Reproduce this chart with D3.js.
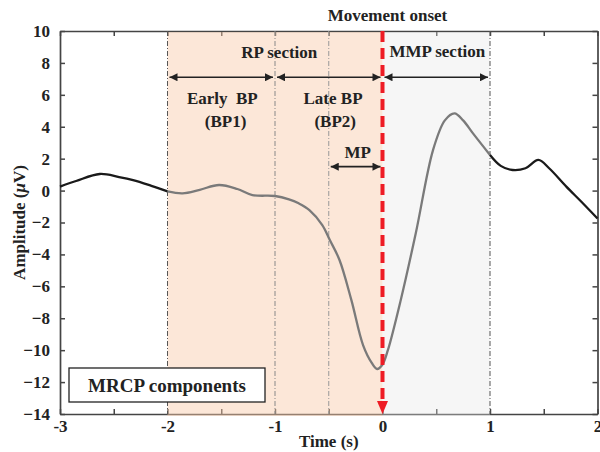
<!DOCTYPE html>
<html lang="en">
<head>
    <meta charset="UTF-8">
    <title>MRCP components</title>
    <script src="https://d3js.org/d3.v7.min.js"></script>
    <style>
        body { margin: 0; background: #fff; }
        text { font-family: "Liberation Serif", "Times New Roman", serif; font-weight: bold; fill: #222; white-space: pre; }
    </style>
</head>
<body>
    <div id="chart"></div>
    <script>
        // averaged MRCP trace (time in s, amplitude in uV)
        const timeVals = [-3, -2.85, -2.63, -2.45, -2.32, -2.15, -2.0, -1.86, -1.7, -1.52, -1.35, -1.21, -1.0,
            -0.87, -0.78, -0.68, -0.56, -0.49, -0.4, -0.29, -0.18, -0.1, -0.05, 0, 0.05, 0.17, 0.31, 0.47,
            0.58, 0.67, 0.75, 0.84, 1.0, 1.1, 1.21, 1.33, 1.45, 1.55, 1.71, 1.85, 2.0];
        const ampVals = [0.25, 0.6, 1.04, 0.85, 0.66, 0.3, -0.05, -0.17, 0.05, 0.35, 0.1, -0.28, -0.34,
            -0.55, -0.8, -1.22, -2.16, -3.1, -4.35, -6.85, -9.7, -10.8, -11.18, -10.9, -10.0, -6.85, -2.66, 2.54,
            4.4, 4.84, 4.4, 3.6, 2.23, 1.55, 1.29, 1.4, 1.92, 1.4, 0.25, -0.7, -1.75];

        const xTicks = d3.range(-3, 2.01, 0.5);
        const yTicks = d3.range(-14, 10.01, 2);

        const rpSpan = [-2, 0];
        const mmpSpan = [0, 1];
        const guideLines = [-2, -1, -0.5, 1];
        const guideColors = ["#555", "#888", "#999", "#555"];

        // double arrows: [start, end, amplitude level]
        const arrows = [[-2, -1, 7.1], [-1, 0, 7.1], [0, 1, 7.1], [-0.5, 0, 1.5]];
        const labels = [
            { t: -0.96, a: 8.3, text: "RP section" },
            { t: 0.51, a: 8.4, text: "MMP section" },
            { t: -1.49, a: 5.4, text: "Early  BP" },
            { t: -1.46, a: 4.0, text: "(BP1)" },
            { t: -0.46, a: 5.4, text: "Late BP" },
            { t: -0.44, a: 4.0, text: "(BP2)" },
            { t: -0.23, a: 2.05, text: "MP" }
        ];

        const W = 600, H = 452;
        const pL = 60, pR = 597.5, pT = 31, pB = 414;

        const svg = d3.select("#chart").append("svg")
            .attr("width", W)
            .attr("height", H);

        const x = d3.scaleLinear().domain([-3, 2]).range([pL, pR]);
        const y = d3.scaleLinear().domain([-14, 10]).range([pB, pT]);

        const defs = svg.append("defs");
        defs.append("marker")
            .attr("id", "head")
            .attr("viewBox", "0 0 10 10")
            .attr("refX", 10).attr("refY", 5)
            .attr("markerWidth", 9).attr("markerHeight", 8)
            .attr("markerUnits", "userSpaceOnUse")
            .attr("orient", "auto-start-reverse")
            .append("path")
            .attr("d", "M0,0 L10,5 L0,10 z")
            .attr("fill", "#222");

        // axes (ticks pointing inward)
        const axisColor = "#444";
        function styleAxis(g) {
            g.select(".domain").attr("stroke", axisColor).attr("stroke-width", 1.7);
            g.selectAll(".tick line").attr("stroke", axisColor).attr("stroke-width", 1.5);
            g.selectAll(".tick text")
                .style("font-family", "Liberation Serif, serif")
                .style("font-weight", "bold")
                .style("font-size", "17px")
                .attr("fill", "#222");
        }

        svg.append("g")
            .attr("transform", `translate(0,${pB})`)
            .call(d3.axisBottom(x).tickValues(xTicks).tickSize(-5).tickSizeOuter(0).tickPadding(6)
                .tickFormat(d => Number.isInteger(d) ? d : ""))
            .call(styleAxis);
        svg.append("g")
            .attr("transform", `translate(0,${pT})`)
            .call(d3.axisTop(x).tickValues(xTicks).tickSize(-5).tickSizeOuter(0).tickFormat(""))
            .call(styleAxis);
        svg.append("g")
            .attr("transform", `translate(${pL},0)`)
            .call(d3.axisLeft(y).tickValues(yTicks).tickSize(-5).tickSizeOuter(0).tickPadding(10))
            .call(styleAxis);
        svg.append("g")
            .attr("transform", `translate(${pR},0)`)
            .call(d3.axisRight(y).tickValues(yTicks).tickSize(-5).tickSizeOuter(0).tickFormat(""))
            .call(styleAxis);

        // shaded sections, translucent so the bottom axis shows through
        svg.append("rect")
            .attr("x", x(rpSpan[0])).attr("y", pT + 1)
            .attr("width", x(rpSpan[1]) - x(rpSpan[0])).attr("height", pB - pT + 1)
            .attr("fill", "#f9c9a8").attr("fill-opacity", 0.45);
        svg.append("rect")
            .attr("x", x(mmpSpan[0])).attr("y", pT + 1)
            .attr("width", x(mmpSpan[1]) - x(mmpSpan[0])).attr("height", pB - pT + 1)
            .attr("fill", "#e4e4e4").attr("fill-opacity", 0.35);

        guideLines.forEach((t, i) => {
            svg.append("line")
                .attr("x1", x(t)).attr("x2", x(t))
                .attr("y1", pT).attr("y2", pB)
                .attr("stroke", guideColors[i])
                .attr("stroke-width", 1)
                .attr("stroke-dasharray", "5,2,1,2");
        });

        // curve: black outside the sections, gray inside
        const pts = timeVals.map((t, i) => [t, ampVals[i]]);
        const line = d3.line()
            .x(d => x(d[0]))
            .y(d => y(d[1]))
            .curve(d3.curveCatmullRom.alpha(0.5));

        const parts = [
            { data: pts.filter(d => d[0] <= -2), color: "#1a1a1a" },
            { data: pts.filter(d => d[0] >= -2 && d[0] <= 1), color: "#7a7a7a" },
            { data: pts.filter(d => d[0] >= 1), color: "#1a1a1a" }
        ];
        parts.forEach(p => {
            svg.append("path")
                .datum(p.data)
                .attr("d", line)
                .attr("fill", "none")
                .attr("stroke", p.color)
                .attr("stroke-width", 2.3);
        });

        // movement onset
        svg.append("line")
            .attr("x1", x(0)).attr("x2", x(0))
            .attr("y1", pT).attr("y2", pB - 11)
            .attr("stroke", "#ee1c25")
            .attr("stroke-width", 4)
            .attr("stroke-dasharray", "11,6");
        svg.append("path")
            .attr("d", `M${x(0) - 5.5},${pB - 13} L${x(0) + 5.5},${pB - 13} L${x(0)},${pB} z`)
            .attr("fill", "#ee1c25");
        svg.append("text")
            .attr("x", x(0) + 5).attr("y", 21)
            .attr("text-anchor", "middle")
            .style("font-size", "17px")
            .text("Movement onset");

        arrows.forEach(a => {
            const gap = 2;
            svg.append("line")
                .attr("x1", x(a[0]) + gap).attr("x2", x(a[1]) - gap)
                .attr("y1", y(a[2])).attr("y2", y(a[2]))
                .attr("stroke", "#222")
                .attr("stroke-width", 1.6)
                .attr("marker-start", "url(#head)")
                .attr("marker-end", "url(#head)");
        });

        labels.forEach(l => {
            svg.append("text")
                .attr("x", x(l.t)).attr("y", y(l.a))
                .attr("text-anchor", "middle")
                .style("font-size", "17px")
                .text(l.text);
        });

        // axis titles
        svg.append("text")
            .attr("x", (pL + pR) / 2).attr("y", 447)
            .attr("text-anchor", "middle")
            .style("font-size", "17px")
            .text("Time (s)");

        const yTitle = svg.append("text")
            .attr("transform", `translate(25,${(pT + pB) / 2}) rotate(-90)`)
            .attr("text-anchor", "middle")
            .style("font-size", "17px");
        yTitle.append("tspan").text("Amplitude (");
        yTitle.append("tspan").style("font-style", "italic").text("\u03bc");
        yTitle.append("tspan").text("V)");

        // legend box
        svg.append("rect")
            .attr("x", 69).attr("y", 368)
            .attr("width", 196).attr("height", 34)
            .attr("fill", "#fff")
            .attr("stroke", "#222")
            .attr("stroke-width", 1.3);
        svg.append("text")
            .attr("x", 167).attr("y", 392)
            .attr("text-anchor", "middle")
            .style("font-size", "19px")
            .text("MRCP components");
    </script>
</body>
</html>
